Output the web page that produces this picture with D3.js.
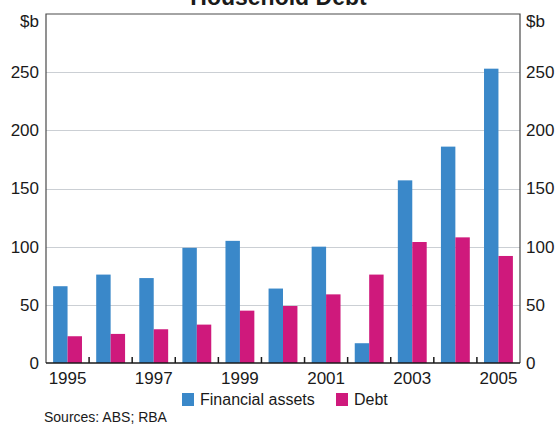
<!DOCTYPE html>
<html>
<head>
<meta charset="utf-8">
<script src="https://cdn.jsdelivr.net/npm/d3@7"></script>
<style>
	body { margin: 0; background: #fff; }
	text { font-family: Arial, 'Liberation Sans', sans-serif; fill: #1a1a1a; }
	.grid { stroke: #cbcfd4; stroke-width: 1; }
	.frame { stroke: #4a4a4a; stroke-width: 1.2; fill: none; }
	.axis-line { stroke: #1a1a1a; stroke-width: 1.5; }
</style>
</head>
<body>
<div id="chart"></div>
<script>
let years = ['1995', '1996', '1997', '1998', '1999', '2000', '2001', '2002', '2003', '2004', '2005']
let financialAssets = [66, 76, 73, 99, 105, 64, 100, 17, 157, 186, 253]
let debt = [23, 25, 29, 33, 45, 49, 59, 76, 104, 108, 92]
let seriesNames = ['Financial assets', 'Debt']
let seriesColors = ['#3a88c9', '#cf197c']
let yTicks = [0, 50, 100, 150, 200, 250]
let xLabels = ['1995', '1997', '1999', '2001', '2003', '2005']

let margin = { left: 46, right: 37, top: 14, bottom: 62 }
let width = 557, height = 425

let svg = d3.select('#chart')
.append('svg')
.attr('width', width)
.attr('height', height)

let x = d3.scaleBand()
.domain(years)
.range([margin.left, width - margin.right])
.paddingInner(0.33)
.paddingOuter(0.165)

let sub = d3.scaleBand()
.domain(seriesNames)
.range([0, x.bandwidth()])

let y = d3.scaleLinear()
.domain([0, 300])
.range([height - margin.bottom, margin.top])

let x0 = margin.left, x1 = width - margin.right

// title, mostly clipped off the top like the original
svg.append('text')
.attr('x', width / 2)
.attr('y', 5)
.attr('text-anchor', 'middle')
.style('font-weight', 'bold')
.style('font-size', '23px')
.text('Household Debt')

svg.selectAll('.grid')
.data(yTicks.filter(d => d > 0))
.join('line')
.attr('class', 'grid')
.attr('x1', x0)
.attr('x2', x1)
.attr('y1', d => Math.round(y(d)) + 0.5)
.attr('y2', d => Math.round(y(d)) + 0.5)

let rows = years.map((yr, i) => ({ year: yr, values: [financialAssets[i], debt[i]] }))

let groups = svg.selectAll('.year-group')
.data(rows)
.join('g')
.attr('class', 'year-group')
.attr('transform', d => `translate(${x(d.year)}, 0)`)

groups.selectAll('rect')
.data(d => d.values.map((v, i) => ({ name: seriesNames[i], value: v, color: seriesColors[i] })))
.join('rect')
.attr('x', d => sub(d.name))
.attr('width', sub.bandwidth())
.attr('y', d => y(d.value))
.attr('height', d => y(0) - y(d.value))
.attr('fill', d => d.color)

// frame
svg.append('path')
.attr('class', 'frame')
.attr('d', `M${x0},${y(0)}V${margin.top}H${x1}V${y(0)}`)

// minor ticks between years
let step = x.step()
svg.selectAll('.xtick')
.data(years.slice(1))
.join('line')
.attr('class', 'axis-line')
.attr('x1', d => x(d) - step * x.paddingInner() / 2)
.attr('x2', d => x(d) - step * x.paddingInner() / 2)
.attr('y1', y(0))
.attr('y2', y(0) - 6)

svg.append('line')
.attr('class', 'axis-line')
.attr('x1', x0)
.attr('x2', x1)
.attr('y1', y(0))
.attr('y2', y(0))

svg.selectAll('.xlabel')
.data(xLabels)
.join('text')
.attr('class', 'xlabel')
.attr('x', d => x(d) + x.bandwidth() / 2)
.attr('y', y(0) + 21)
.attr('text-anchor', 'middle')
.style('font-size', '17px')
.text(d => d)

svg.selectAll('.ylabel-left')
.data(yTicks)
.join('text')
.attr('class', 'ylabel-left')
.attr('x', x0 - 7)
.attr('y', d => y(d))
.attr('dy', '0.35em')
.attr('text-anchor', 'end')
.style('font-size', '17px')
.text(d => d)

svg.selectAll('.ylabel-right')
.data(yTicks)
.join('text')
.attr('class', 'ylabel-right')
.attr('x', x1 + 6)
.attr('y', d => y(d))
.attr('dy', '0.35em')
.style('font-size', '17px')
.text(d => d)

svg.append('text')
.attr('x', x0 - 7)
.attr('y', 27)
.attr('text-anchor', 'end')
.style('font-size', '17px')
.text('$b')

svg.append('text')
.attr('x', x1 + 6)
.attr('y', 27)
.style('font-size', '17px')
.text('$b')

// legend
let legendPos = [182, 336]
let legend = svg.selectAll('.legend')
.data(seriesNames)
.join('g')
.attr('class', 'legend')
.attr('transform', (d, i) => `translate(${legendPos[i]}, 393)`)

legend.append('rect')
.attr('width', 12)
.attr('height', 13)
.attr('fill', (d, i) => seriesColors[i])

legend.append('text')
.attr('x', 18)
.attr('y', 12)
.style('font-size', '16px')
.text(d => d)

svg.append('text')
.attr('x', 44)
.attr('y', 422)
.style('font-size', '14px')
.text('Sources: ABS; RBA')
</script>
</body>
</html>
